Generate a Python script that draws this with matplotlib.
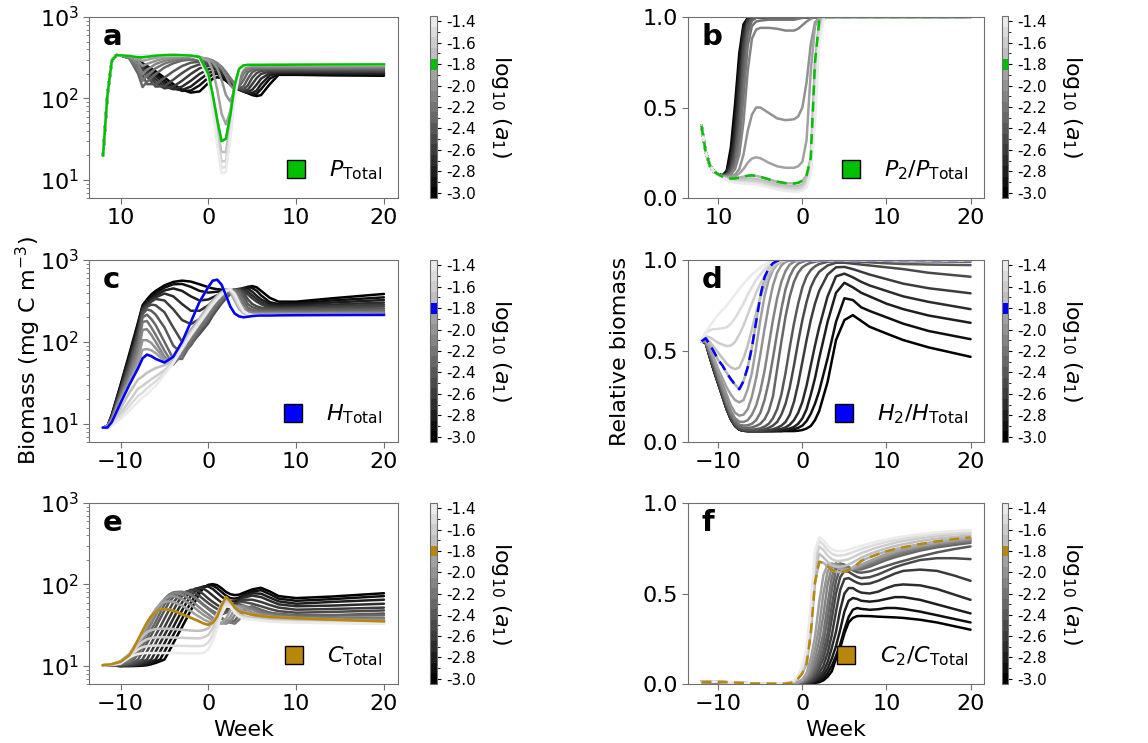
import matplotlib
matplotlib.use("Agg")
import matplotlib.pyplot as plt
import matplotlib.cm as cm
from matplotlib.colors import ListedColormap, BoundaryNorm
from matplotlib.lines import Line2D
from matplotlib.ticker import FixedLocator

# log10(a1) values, one curve per value
A1 = [-3.0, -2.9, -2.8, -2.7, -2.6, -2.5, -2.4, -2.3, -2.2, -2.1, -2.0,
      -1.9, -1.8, -1.7, -1.6, -1.5, -1.4]
HIGHLIGHT = 12  # log10(a1) = -1.8
CBAR_TICKS = [-3.0, -2.8, -2.6, -2.4, -2.2, -2.0, -1.8, -1.6, -1.4]
CBAR_LABELS = ["-3.0", "-2.8", "-2.6", "-2.4", "-2.2", "-2.0", "-1.8", "-1.6", "-1.4"]

# ---- panel a: P_Total ----
WEEKS_A = [-12, -11.5, -11, -10.5, -10, -9, -8, -7.5, -7, -6, -5, -4, -3, -2, -1, 0,
           0.5, 1, 1.5, 2, 2.5, 3, 3.5, 4, 4.5, 5, 5.5, 6, 7, 8, 10, 14, 20]
P_TOTAL = [
    [20, 110, 290, 340, 338, 315, 285, 268, 250, 215, 180, 150, 128, 118, 122, 155, 175, 182, 178, 165, 148, 135, 128, 122, 116, 110, 107, 110, 150, 195, 195, 192, 190],
    [20, 110, 290, 340, 338, 320, 290, 270, 248, 205, 165, 138, 124, 125, 145, 180, 198, 200, 190, 172, 152, 137, 128, 122, 117, 113, 114, 130, 175, 200, 200, 198, 196],
    [20, 110, 290, 340, 338, 322, 285, 262, 238, 190, 152, 131, 127, 140, 170, 205, 215, 212, 198, 178, 156, 139, 130, 123, 118, 117, 125, 150, 192, 205, 206, 204, 202],
    [20, 110, 290, 340, 338, 320, 275, 250, 222, 172, 140, 130, 140, 165, 200, 228, 232, 225, 208, 185, 160, 141, 131, 124, 120, 128, 148, 175, 205, 210, 211, 209, 208],
    [20, 110, 290, 340, 338, 318, 265, 236, 205, 155, 133, 140, 165, 200, 235, 250, 248, 238, 218, 192, 164, 143, 132, 125, 128, 150, 178, 200, 215, 216, 216, 215, 214],
    [20, 110, 290, 340, 338, 315, 250, 218, 185, 140, 142, 170, 205, 240, 262, 265, 260, 248, 226, 198, 168, 145, 133, 128, 145, 180, 205, 218, 222, 222, 222, 221, 220],
    [20, 110, 290, 340, 338, 312, 232, 195, 150, 150, 180, 215, 250, 275, 282, 278, 270, 256, 232, 203, 172, 147, 134, 140, 175, 210, 225, 228, 228, 228, 228, 227, 226],
    [20, 110, 290, 340, 338, 310, 200, 138, 160, 200, 240, 270, 292, 300, 298, 290, 280, 264, 238, 207, 175, 149, 140, 168, 210, 228, 233, 233, 233, 233, 233, 232, 232],
    [20, 110, 290, 340, 338, 315, 230, 165, 190, 235, 268, 290, 305, 310, 308, 300, 290, 272, 245, 212, 178, 150, 155, 200, 230, 238, 238, 238, 238, 238, 238, 238, 238],
    [20, 110, 290, 340, 338, 320, 262, 200, 225, 265, 290, 305, 315, 318, 315, 305, 292, 270, 235, 190, 145, 128, 165, 220, 240, 244, 244, 244, 244, 244, 244, 244, 244],
    [20, 110, 290, 340, 338, 325, 290, 250, 265, 290, 310, 320, 325, 325, 320, 305, 280, 235, 170, 110, 92, 130, 205, 240, 248, 250, 250, 250, 250, 250, 250, 250, 250],
    [20, 110, 290, 340, 338, 330, 310, 290, 298, 315, 325, 332, 335, 335, 325, 290, 220, 130, 65, 48, 70, 150, 225, 250, 255, 255, 255, 255, 255, 255, 255, 255, 255],
    [20, 110, 290, 340, 338, 332, 320, 320, 325, 335, 340, 342, 340, 335, 322, 200, 110, 55, 30, 32, 62, 145, 231, 255, 258, 258, 258, 258, 259, 259, 260, 261, 262],
    [20, 110, 290, 340, 338, 334, 328, 330, 332, 338, 340, 340, 338, 333, 315, 185, 95, 42, 22, 22, 50, 130, 220, 252, 258, 260, 260, 260, 260, 260, 261, 262, 262],
    [20, 110, 290, 340, 338, 335, 332, 333, 335, 338, 340, 340, 338, 332, 312, 175, 85, 35, 17, 17, 42, 120, 215, 250, 258, 260, 260, 260, 260, 260, 261, 262, 262],
    [20, 110, 290, 340, 338, 336, 334, 335, 336, 339, 341, 341, 339, 333, 310, 172, 80, 30, 14, 14.5, 36, 110, 210, 248, 257, 260, 260, 260, 260, 260, 261, 262, 262],
    [20, 110, 290, 340, 338, 337, 336, 336, 337, 340, 342, 342, 340, 334, 308, 170, 75, 27, 12, 12.5, 32, 100, 205, 248, 257, 260, 260, 260, 260, 260, 261, 262, 262],
]

# ---- panel b: P2 / P_Total ----
WEEKS_B = [-12, -11.5, -11, -10.5, -10, -9.5, -9, -8.5, -8, -7.5, -7, -6.5, -6, -5.5, -5,
           -4, -3, -2, -1, -0.5, 0, 0.5, 1, 1.5, 2, 2.5, 3, 5, 10, 20]
P2_FRAC = [
    [.40, .255, .18, .145, .13, .125, .15, .28, .52, .80, .96, .995, 1, 1, 1, 1, 1, 1, 1, 1, 1, 1, 1, 1, 1, 1, 1, 1, 1, 1],
    [.40, .255, .18, .145, .13, .125, .145, .24, .46, .76, .95, .99, 1, 1, 1, 1, 1, 1, 1, 1, 1, 1, 1, 1, 1, 1, 1, 1, 1, 1],
    [.40, .255, .18, .145, .13, .125, .14, .21, .40, .70, .93, .99, 1, 1, 1, 1, 1, 1, 1, 1, 1, 1, 1, 1, 1, 1, 1, 1, 1, 1],
    [.40, .255, .18, .145, .13, .125, .135, .19, .35, .64, .90, .985, 1, 1, 1, 1, 1, 1, 1, 1, 1, 1, 1, 1, 1, 1, 1, 1, 1, 1],
    [.40, .255, .18, .145, .13, .125, .13, .17, .30, .57, .86, .98, .998, 1, 1, 1, 1, 1, 1, 1, 1, 1, 1, 1, 1, 1, 1, 1, 1, 1],
    [.40, .255, .18, .145, .13, .124, .13, .16, .26, .50, .81, .97, .995, 1, 1, 1, 1, 1, 1, 1, 1, 1, 1, 1, 1, 1, 1, 1, 1, 1],
    [.40, .255, .18, .145, .13, .123, .128, .15, .23, .43, .75, .95, .99, 1, 1, 1, 1, 1, 1, 1, 1, 1, 1, 1, 1, 1, 1, 1, 1, 1],
    [.40, .255, .18, .145, .13, .122, .125, .14, .20, .36, .66, .91, .98, .995, 1, 1, 1, 1, 1, 1, 1, 1, 1, 1, 1, 1, 1, 1, 1, 1],
    [.40, .255, .18, .145, .13, .121, .122, .135, .18, .30, .56, .84, .95, .975, .98, .985, .985, .985, .985, .99, .995, 1, 1, 1, 1, 1, 1, 1, 1, 1],
    [.40, .255, .18, .145, .13, .12, .12, .13, .16, .24, .42, .70, .88, .93, .94, .94, .935, .925, .925, .935, .955, .975, .99, 1, 1, 1, 1, 1, 1, 1],
    [.40, .255, .18, .145, .13, .12, .118, .12, .13, .16, .24, .37, .46, .50, .50, .47, .44, .43, .435, .45, .50, .64, .85, .97, .995, 1, 1, 1, 1, 1],
    [.40, .255, .18, .145, .13, .119, .115, .115, .12, .135, .16, .195, .218, .225, .22, .195, .175, .167, .167, .175, .20, .32, .70, .95, .995, 1, 1, 1, 1, 1],
    [.40, .255, .18, .145, .13, .118, .11, .107, .108, .113, .118, .123, .125, .122, .117, .103, .09, .082, .08, .084, .095, .125, .22, .75, .975, .995, 1, 1, 1, 1],
    [.40, .255, .18, .145, .128, .115, .106, .10, .10, .102, .105, .108, .108, .105, .10, .088, .076, .068, .065, .067, .075, .10, .20, .65, .95, .99, 1, 1, 1, 1],
    [.40, .255, .18, .145, .127, .113, .104, .097, .095, .095, .095, .095, .095, .092, .088, .077, .065, .057, .053, .054, .06, .085, .17, .58, .93, .99, 1, 1, 1, 1],
    [.40, .255, .18, .145, .126, .111, .102, .094, .09, .088, .087, .086, .085, .082, .078, .067, .055, .047, .043, .043, .048, .07, .15, .50, .90, .985, 1, 1, 1, 1],
    [.40, .255, .18, .145, .125, .11, .10, .091, .085, .082, .08, .078, .077, .074, .07, .058, .047, .039, .035, .035, .04, .06, .13, .42, .86, .98, 1, 1, 1, 1],
]

# ---- panel c: H_Total ----
WEEKS_C = [-12, -11.5, -11, -10, -9, -8, -7.5, -7, -6.5, -6, -5, -4, -3, -2, -1, 0,
           0.5, 1, 1.5, 2, 2.5, 3, 3.5, 4, 4.5, 5, 5.5, 6, 7, 8, 10, 14, 20]
H_TOTAL = [
    [9, 9.3, 13, 30, 72, 175, 280, 330, 380, 420, 490, 540, 560, 545, 505, 465, 450, 440, 435, 430, 428, 425, 430, 445, 470, 480, 465, 420, 345, 310, 310, 340, 385],
    [9, 9.3, 12.8, 29, 68, 165, 270, 315, 355, 395, 460, 505, 510, 470, 420, 400, 405, 410, 415, 418, 420, 422, 430, 455, 468, 455, 420, 370, 305, 290, 295, 320, 350],
    [9, 9.3, 12.6, 28, 64, 155, 262, 300, 335, 370, 425, 450, 420, 360, 320, 330, 350, 370, 390, 405, 415, 425, 440, 455, 445, 410, 365, 330, 290, 278, 282, 302, 325],
    [9, 9.3, 12.4, 27, 60, 145, 255, 290, 320, 350, 390, 360, 290, 240, 240, 280, 310, 340, 370, 395, 415, 430, 445, 440, 410, 370, 335, 305, 275, 268, 270, 285, 302],
    [9, 9.3, 12.2, 26, 56, 135, 245, 280, 310, 335, 320, 250, 185, 165, 190, 240, 275, 315, 355, 390, 420, 440, 440, 415, 380, 340, 310, 288, 262, 258, 260, 272, 285],
    [9, 9.3, 12.0, 25, 52, 125, 232, 268, 285, 280, 230, 150, 100, 95, 125, 170, 210, 249, 294, 339, 383, 420, 438, 400, 330, 290, 272, 262, 255, 252, 255, 262, 270],
    [9, 9.3, 11.8, 24, 48, 112, 218, 250, 240, 215, 150, 90, 72, 90, 132, 182, 220, 262, 307, 352, 395, 428, 425, 360, 290, 265, 255, 250, 246, 245, 246, 250, 255],
    [9, 9.3, 11.6, 23, 44, 100, 200, 215, 190, 160, 100, 62, 62, 95, 140, 193, 232, 276, 321, 366, 407, 436, 405, 318, 262, 245, 240, 238, 237, 237, 237, 239, 242],
    [9, 9.3, 11.4, 22, 40, 88, 175, 180, 150, 122, 78, 53, 70, 104, 150, 208, 249, 294, 339, 383, 420, 438, 372, 288, 245, 232, 230, 229, 229, 229, 229, 230, 232],
    [9, 9.3, 11.2, 21, 37, 75, 140, 143, 122, 100, 66, 54, 80, 116, 165, 232, 276, 321, 366, 407, 436, 405, 318, 252, 230, 225, 224, 224, 224, 224, 224, 225, 226],
    [9, 9.3, 11.0, 20, 34, 63, 105, 105, 97, 84, 62, 59, 85, 124, 176, 249, 294, 339, 383, 420, 438, 372, 288, 236, 222, 219, 219, 219, 219, 219, 219, 220, 220],
    [9, 9.3, 10.7, 19, 32, 55, 80, 82, 79, 73, 58, 66, 96, 140, 194, 276, 321, 366, 407, 436, 405, 318, 252, 225, 216, 215, 215, 215, 215, 215, 216, 216, 217],
    [9, 9.0, 10.5, 18, 30, 48, 63, 70, 67, 62, 56, 66, 100, 175, 310, 470, 560, 575, 500, 370, 270, 222, 205, 200, 203, 207, 209, 210, 210, 211, 212, 213, 214],
    [9, 8.9, 10.2, 15.5, 24, 35, 38, 42, 45, 48, 52, 60, 92, 132, 188, 267, 312, 357, 398, 430, 432, 340, 264, 228, 217, 213, 212, 212, 212, 212, 212, 213, 213],
    [9, 8.9, 10.0, 13.5, 19, 27, 29, 32, 35, 38, 45, 58, 88, 128, 182, 258, 303, 348, 390, 425, 435, 355, 276, 232, 218, 212, 212, 212, 212, 212, 212, 212, 212],
    [9, 8.8, 9.8, 12.5, 16.5, 22, 24, 27, 30, 33, 42, 56, 85, 124, 176, 249, 294, 339, 383, 420, 438, 372, 288, 236, 219, 212, 211, 211, 211, 211, 211, 211, 211],
    [9, 8.8, 9.5, 11.5, 14.5, 18.5, 21, 23, 26, 29, 40, 55, 82, 120, 170, 240, 285, 330, 375, 415, 440, 390, 300, 240, 220, 212, 210, 210, 210, 210, 210, 210, 210],
]

# ---- panel d: H2 / H_Total ----
WEEKS_D = [-12, -11.5, -11, -10.5, -10, -9.5, -9, -8.5, -8, -7.5, -7, -6.5, -6, -5.5, -5,
           -4.5, -4, -3.5, -3, -2.5, -2, -1.5, -1, -0.5, 0, 0.5, 1, 1.5, 2, 3, 4, 5, 6,
           7, 8, 10, 12, 15, 20]
H2_FRAC = [
    [.553, .545, .465, .39, .32, .25, .18, .125, .088, .068, .062, .06, .06, .06, .06, .06, .06, .06, .06, .06, .06, .06, .06, .062, .066, .074, .088, .12, .17, .33, .56, .67, .697, .665, .633, .596, .56, .52, .468],
    [.553, .545, .465, .39, .32, .25, .18, .125, .088, .068, .062, .06, .06, .06, .06, .06, .06, .06, .06, .06, .063, .066, .07, .078, .09, .115, .155, .21, .28, .46, .66, .79, .78, .74, .72, .685, .65, .61, .565],
    [.553, .545, .465, .39, .32, .25, .18, .125, .088, .068, .062, .06, .06, .06, .06, .06, .06, .06, .062, .065, .068, .074, .083, .10, .13, .18, .26, .35, .46, .66, .82, .875, .85, .82, .80, .76, .73, .695, .655],
    [.553, .545, .465, .39, .32, .25, .18, .125, .088, .068, .062, .06, .06, .06, .06, .06, .061, .063, .067, .072, .08, .095, .12, .16, .22, .31, .42, .53, .63, .80, .91, .925, .905, .88, .86, .83, .80, .77, .73],
    [.553, .547, .47, .395, .325, .255, .185, .13, .092, .07, .064, .062, .061, .06, .06, .062, .065, .07, .078, .09, .11, .15, .22, .32, .44, .56, .67, .76, .83, .92, .96, .962, .95, .935, .92, .895, .87, .845, .817],
    [.553, .548, .475, .40, .33, .26, .19, .135, .095, .073, .066, .064, .063, .063, .065, .07, .078, .09, .11, .15, .21, .30, .42, .55, .67, .77, .85, .90, .935, .97, .985, .985, .98, .975, .97, .96, .95, .93, .908],
    [.553, .55, .48, .41, .34, .27, .20, .14, .10, .078, .07, .068, .068, .07, .075, .085, .10, .13, .18, .26, .38, .52, .65, .76, .85, .91, .945, .965, .978, .99, .995, .995, .993, .99, .987, .982, .978, .975, .972],
    [.553, .55, .485, .42, .35, .28, .21, .15, .11, .085, .078, .078, .08, .088, .10, .125, .17, .25, .40, .55, .69, .80, .88, .93, .96, .975, .985, .99, .995, .998, 1.0, .999, .998, .997, .996, .995, .993, .992, .99],
    [.553, .55, .49, .43, .36, .29, .22, .16, .12, .095, .09, .092, .10, .12, .16, .23, .33, .46, .60, .73, .84, .91, .955, .98, .99, .996, 1, 1, 1, 1, 1, 1, 1, 1, 1, 1, 1, 1, 1],
    [.553, .555, .50, .44, .37, .30, .23, .17, .13, .112, .11, .12, .15, .20, .28, .39, .53, .67, .79, .88, .94, .975, .99, .997, 1, 1, 1, 1, 1, 1, 1, 1, 1, 1, 1, 1, 1, 1, 1],
    [.553, .56, .51, .45, .385, .32, .26, .20, .16, .145, .15, .18, .25, .35, .48, .62, .75, .86, .93, .97, .99, .997, 1, 1, 1, 1, 1, 1, 1, 1, 1, 1, 1, 1, 1, 1, 1, 1, 1],
    [.553, .565, .52, .46, .40, .35, .30, .26, .23, .218, .23, .29, .38, .52, .67, .80, .89, .945, .975, .99, .997, 1, 1, 1, 1, 1, 1, 1, 1, 1, 1, 1, 1, 1, 1, 1, 1, 1, 1],
    [.553, .57, .535, .494, .45, .42, .38, .345, .315, .29, .335, .41, .52, .66, .80, .905, .955, .982, .995, 1, 1, 1, 1, 1, 1, 1, 1, 1, 1, 1, 1, 1, 1, 1, 1, 1, 1, 1, 1],
    [.553, .575, .55, .52, .49, .46, .43, .41, .40, .41, .46, .53, .62, .71, .79, .86, .92, .955, .98, .99, .997, 1, 1, 1, 1, 1, 1, 1, 1, 1, 1, 1, 1, 1, 1, 1, 1, 1, 1],
    [.553, .58, .575, .56, .545, .535, .527, .53, .55, .59, .64, .70, .76, .82, .87, .91, .95, .97, .985, .995, 1, 1, 1, 1, 1, 1, 1, 1, 1, 1, 1, 1, 1, 1, 1, 1, 1, 1, 1],
    [.553, .60, .615, .62, .622, .625, .63, .65, .68, .72, .76, .81, .85, .89, .92, .95, .97, .985, .993, .997, 1, 1, 1, 1, 1, 1, 1, 1, 1, 1, 1, 1, 1, 1, 1, 1, 1, 1, 1],
    [.553, .60, .64, .67, .70, .725, .75, .78, .81, .84, .87, .895, .92, .94, .96, .975, .985, .993, .997, 1, 1, 1, 1, 1, 1, 1, 1, 1, 1, 1, 1, 1, 1, 1, 1, 1, 1, 1, 1],
]

# ---- panel e: C_Total ----
WEEKS_E = [-12, -11, -10, -9, -8.5, -8, -7.5, -7, -6.5, -6, -5.5, -5, -4.5, -4, -3.5, -3,
           -2.5, -2, -1.5, -1, -0.5, 0, 0.5, 1, 1.5, 2, 2.5, 3, 3.5, 4, 5, 6, 7, 8, 10, 14, 20]
C_TOTAL = [
    [10.2, 10.1, 10, 10, 10, 10, 10.1, 10.2, 10.5, 10.9, 11.4, 12, 15, 19, 24, 30, 38, 48, 62, 78, 92, 99, 101, 98, 90, 81, 76, 74, 75, 79, 87, 91, 82, 72, 68, 71, 78],
    [10.2, 10.1, 10, 10, 10, 10.1, 10.2, 10.4, 10.7, 11.3, 12, 15, 19, 24, 30, 38, 48, 60, 72, 84, 93, 98, 97, 90, 81, 73, 68, 67, 69, 74, 82, 85, 76, 67, 63, 66, 72],
    [10.2, 10.1, 10, 10, 10.1, 10.2, 10.4, 10.7, 11.2, 12, 15, 19, 24, 30, 38, 48, 60, 72, 83, 91, 95, 94, 88, 79, 71, 65, 62, 62, 65, 71, 78, 77, 69, 62, 58, 61, 65],
    [10.2, 10.1, 10, 10.1, 10.2, 10.4, 10.7, 11.2, 12, 15, 19, 24, 30, 38, 48, 60, 72, 82, 89, 91, 88, 81, 73, 66, 60, 57, 56, 58, 63, 69, 73, 70, 63, 57, 54, 55, 58],
    [10.2, 10.1, 10, 10.2, 10.4, 10.7, 11.2, 12, 15, 19, 24, 30, 38, 48, 60, 72, 81, 86, 86, 82, 75, 67, 61, 56, 52, 50, 51, 55, 61, 65, 65, 61, 56, 52, 49, 50, 52],
    [10.2, 10.1, 10.1, 10.4, 10.7, 11.2, 12, 15, 19, 24, 30, 38, 48, 60, 70, 78, 82, 82, 78, 72, 65, 59, 54, 50, 47, 47, 50, 55, 60, 61, 58, 54, 50, 47, 45, 46, 48],
    [10.2, 10.2, 10.3, 10.7, 11.2, 12, 15, 19, 24, 30, 38, 48, 60, 70, 77, 80, 79, 75, 69, 62, 56, 51, 47, 44, 43, 45, 49, 54, 56, 55, 51, 48, 45, 43, 41.5, 42, 44],
    [10.2, 10.2, 10.4, 11, 12, 14, 17.5, 22, 28, 35, 45, 57, 68, 76, 80, 81, 79, 74, 68, 61, 55, 50, 45, 41, 38, 36, 35, 36, 42, 50, 54, 49, 45, 43.5, 42, 41.5, 42],
    [10.2, 10.3, 10.6, 11.5, 13, 16, 20, 26, 33, 42, 54, 66, 75, 80, 81, 81, 79, 75, 69, 62, 56, 50, 46, 42, 39, 36, 34, 33, 37, 46, 52, 46, 43, 42, 40, 39, 39],
    [10.2, 10.3, 10.8, 12.2, 14, 17, 21.5, 27, 34, 43, 54, 65, 73, 78, 78, 75, 70, 64, 58, 52, 47, 43, 39, 36, 34, 33, 35, 42, 52, 55, 49, 44, 42, 40.5, 39, 38, 37.5],
    [10.2, 10.4, 11, 13, 15.5, 19, 24, 30, 38, 48, 58, 66, 71, 72, 70, 66, 61, 56, 51, 46, 42, 39, 36, 34, 33, 34, 40, 50, 55, 52, 45, 42, 40, 39, 37.5, 36.5, 36],
    [10.2, 10.5, 11.5, 14, 17, 21, 26, 33, 41, 50, 57, 61, 62, 61, 58, 55, 51, 47, 43, 40, 37, 35, 33.5, 33, 34, 38, 48, 55, 52, 47, 42, 40, 38.5, 37.5, 36.5, 35.5, 35],
    [10.2, 10.5, 11.2, 13.5, 16.5, 21, 27, 34, 41, 46, 49, 49.6, 49, 47.5, 45.5, 43, 41, 39, 37, 35, 33, 32, 34, 40, 55, 70, 62, 52, 47, 45, 42.5, 41, 40, 39.5, 38.6, 37, 35.2],
    [10.2, 10.5, 11.3, 13.5, 16, 19.5, 23, 26, 27.5, 28.3, 28.6, 28.7, 28.6, 28.4, 28.1, 27.8, 27.5, 27.2, 27, 27, 27.5, 29, 34, 44, 58, 66, 58, 48, 43, 41, 39, 38, 37, 36.5, 35.5, 34.5, 34],
    [10.2, 10.4, 11, 13.3, 15.3, 17.8, 19.8, 21.2, 22, 22.4, 22.5, 22.5, 22.4, 22.3, 22.2, 22.1, 22, 21.9, 21.8, 21.8, 22.5, 24, 29, 39, 53, 62, 57, 47, 42, 40, 38, 37, 36, 35.5, 35, 34, 33.5],
    [10.2, 10.4, 10.8, 13, 14.5, 16, 17, 17.5, 17.7, 17.8, 17.8, 17.8, 17.8, 17.7, 17.7, 17.6, 17.6, 17.5, 17.5, 17.5, 17.8, 19.5, 24, 34, 48, 58, 55, 46, 41, 39, 37.5, 36.5, 35.5, 35, 34.5, 33.8, 33.3],
    [10.2, 10.3, 10.7, 12.7, 13.5, 14, 14.3, 14.4, 14.4, 14.4, 14.4, 14.4, 14.4, 14.4, 14.4, 14.3, 14.3, 14.3, 14.3, 14.3, 14.5, 16, 20, 29, 43, 54, 53, 45, 40, 38, 37, 36, 35, 34.5, 34, 33.5, 33],
]

# ---- panel f: C2 / C_Total ----
WEEKS_F = [-12, -10, -8, -6, -4, -2, -1, -0.5, 0, 0.5, 1, 1.5, 2, 2.5, 3, 3.5, 4, 4.5, 5,
           5.5, 6, 6.5, 7, 8, 9, 10, 11, 12, 14, 16, 18, 20]
C2_FRAC = [
    [.012, .011, .006, .002, .001, .001, .001, .001, 0, .001, .003, .006, .01, .02, .04, .07, .14, .2, .28, .34, .365, .375, .376, .375, .372, .37, .368, .365, .355, .34, .32, .30],
    [.012, .011, .006, .002, .001, .001, .001, .001, .001, .002, .005, .01, .018, .033, .06, .1, .155, .22, .3, .37, .41, .42, .415, .41, .413, .42, .42, .415, .40, .38, .36, .34],
    [.012, .011, .006, .002, .001, .001, .001, .001, .001, .003, .007, .014, .027, .05, .085, .14, .21, .3, .4, .46, .475, .47, .46, .455, .46, .47, .48, .48, .465, .44, .415, .39],
    [.012, .011, .006, .002, .001, .001, .001, .001, .002, .005, .01, .02, .04, .07, .12, .2, .29, .41, .5, .53, .53, .515, .505, .5, .51, .53, .545, .55, .545, .525, .495, .465],
    [.012, .011, .006, .002, .001, .001, .001, .002, .003, .007, .015, .03, .06, .1, .17, .27, .4, .52, .58, .585, .572, .56, .552, .555, .57, .59, .61, .625, .632, .625, .6, .57],
    [.012, .011, .007, .002, .001, .001, .002, .003, .005, .01, .022, .045, .085, .14, .23, .36, .5, .59, .625, .62, .605, .592, .585, .59, .605, .625, .645, .66, .685, .695, .695, .69],
    [.012, .011, .007, .002, .001, .001, .002, .004, .007, .015, .03, .06, .11, .18, .28, .43, .57, .64, .655, .645, .628, .618, .615, .622, .637, .652, .667, .68, .705, .727, .745, .76],
    [.012, .011, .007, .003, .001, .001, .003, .005, .01, .02, .04, .08, .14, .23, .36, .52, .63, .665, .66, .645, .635, .632, .633, .648, .667, .685, .7, .713, .737, .755, .768, .78],
    [.012, .012, .007, .003, .001, .001, .003, .006, .012, .025, .055, .105, .18, .28, .44, .59, .66, .665, .65, .638, .633, .635, .64, .66, .68, .697, .712, .725, .748, .765, .778, .79],
    [.012, .012, .007, .003, .002, .001, .004, .008, .015, .035, .075, .14, .24, .38, .55, .645, .667, .655, .64, .633, .633, .64, .648, .668, .688, .705, .72, .733, .755, .772, .785, .795],
    [.012, .012, .008, .003, .002, .001, .004, .009, .02, .045, .1, .19, .32, .5, .62, .665, .66, .645, .635, .633, .637, .645, .655, .675, .695, .712, .727, .74, .76, .777, .79, .80],
    [.012, .012, .008, .003, .002, .001, .004, .01, .025, .06, .14, .26, .45, .6, .66, .665, .65, .635, .63, .632, .64, .65, .66, .68, .70, .718, .732, .745, .765, .782, .795, .805],
    [.012, .012, .008, .003, .002, .002, .01, .03, .06, .11, .28, .56, .675, .67, .65, .63, .62, .618, .622, .63, .645, .66, .68, .70, .718, .733, .745, .755, .773, .788, .80, .81],
    [.012, .012, .008, .003, .002, .003, .013, .035, .075, .14, .33, .62, .72, .70, .675, .655, .648, .648, .652, .66, .672, .685, .698, .718, .735, .75, .762, .772, .79, .803, .813, .82],
    [.012, .012, .008, .003, .002, .003, .015, .04, .085, .16, .37, .67, .76, .74, .71, .69, .68, .68, .684, .69, .70, .712, .723, .74, .755, .768, .78, .79, .805, .817, .826, .833],
    [.012, .012, .008, .003, .002, .003, .017, .045, .095, .18, .41, .71, .79, .77, .74, .72, .71, .71, .713, .72, .728, .737, .745, .76, .773, .785, .795, .803, .818, .828, .836, .842],
    [.012, .012, .008, .003, .002, .004, .02, .05, .10, .20, .44, .74, .81, .795, .765, .745, .735, .733, .736, .742, .75, .757, .763, .776, .788, .798, .807, .815, .828, .838, .845, .85],
]

GREEN = "#00c000"
BLUE = "#0000ff"
GOLD = "#b8860b"
SPINE = "#707070"

grays = [str(0.92 * i / (len(A1) - 1)) for i in range(len(A1))]

plt.rcParams["font.family"] = "DejaVu Sans"
fig = plt.figure(figsize=(11.48, 7.43), dpi=100)

W, H = 1148, 743


def px_axes(left, top, right, bottom):
    return fig.add_axes([left / W, 1 - bottom / H, (right - left) / W, (bottom - top) / H])


def draw(ax, cax, weeks, rows, color, dashed, logy, letter, label):
    for i, row in enumerate(rows):
        ax.plot(weeks, row, color=grays[i], lw=1.8, solid_capstyle="round")
    if dashed:
        ax.plot(weeks, rows[HIGHLIGHT], color=color, lw=1.8, dashes=(4, 2.5))
    else:
        ax.plot(weeks, rows[HIGHLIGHT], color=color, lw=1.8)

    ax.set_xlim(-13.6, 21.6)
    ax.set_xticks([-10, 0, 10, 20])
    if logy:
        ax.set_yscale("log")
        ax.set_ylim(6, 1000)
    else:
        ax.set_ylim(0, 1)
        ax.set_yticks([0, 0.5, 1.0])
        ax.set_yticklabels(["0.0", "0.5", "1.0"])
    ax.tick_params(labelsize=16, color=SPINE, length=4)
    ax.tick_params(which="minor", color=SPINE)
    for s in ax.spines.values():
        s.set_color(SPINE)

    ax.text(0.045, 0.845, letter, transform=ax.transAxes, fontsize=21,
            fontweight="bold", va="baseline")

    handle = Line2D([], [], marker="s", ls="none", markersize=13,
                    markerfacecolor=color, markeredgecolor="black", markeredgewidth=1)
    ax.legend([handle], [label], loc="lower right", frameon=False, fontsize=16,
              handletextpad=0.5, borderaxespad=0.3)

    # colorbar with the highlighted value coloured
    cols = list(grays)
    cols[HIGHLIGHT] = color
    bounds = [a - 0.05 for a in A1] + [A1[-1] + 0.05]
    sm = cm.ScalarMappable(norm=BoundaryNorm(bounds, len(A1)), cmap=ListedColormap(cols))
    cb = fig.colorbar(sm, cax=cax, ticks=CBAR_TICKS)
    cb.ax.set_yticklabels(CBAR_LABELS)
    cb.ax.yaxis.set_minor_locator(FixedLocator([a for a in A1 if a not in CBAR_TICKS]))
    cb.ax.tick_params(labelsize=11, length=3, color="black")
    cb.ax.tick_params(which="minor", length=2)
    cb.outline.set_edgecolor(SPINE)
    cb.set_label(r"log$_{10}$ ($a_1$)", rotation=270, fontsize=16, labelpad=27)


ax_a = px_axes(89, 17, 398, 198)
ax_b = px_axes(688, 17, 984, 198)
ax_c = px_axes(89, 260, 398, 442)
ax_d = px_axes(688, 260, 984, 442)
ax_e = px_axes(89, 503, 398, 684)
ax_f = px_axes(688, 503, 984, 684)

cax_a = px_axes(430, 16, 437, 198)
cax_b = px_axes(1002, 16, 1008, 198)
cax_c = px_axes(430, 260, 437, 442)
cax_d = px_axes(1002, 260, 1008, 442)
cax_e = px_axes(430, 503, 437, 684)
cax_f = px_axes(1002, 503, 1008, 684)

draw(ax_a, cax_a, WEEKS_A, P_TOTAL, GREEN, False, True, "a", r"$P_{\mathrm{Total}}$")
draw(ax_b, cax_b, WEEKS_B, P2_FRAC, GREEN, True, False, "b", r"$P_2/P_{\mathrm{Total}}$")
draw(ax_c, cax_c, WEEKS_C, H_TOTAL, BLUE, False, True, "c", r"$H_{\mathrm{Total}}$")
draw(ax_d, cax_d, WEEKS_D, H2_FRAC, BLUE, True, False, "d", r"$H_2/H_{\mathrm{Total}}$")
draw(ax_e, cax_e, WEEKS_E, C_TOTAL, GOLD, False, True, "e", r"$C_{\mathrm{Total}}$")
draw(ax_f, cax_f, WEEKS_F, C2_FRAC, GOLD, True, False, "f", r"$C_2/C_{\mathrm{Total}}$")

# top row shows the tick labels without the minus sign
for ax in (ax_a, ax_b):
    ax.set_xticklabels(["10", "0", "10", "20"])

ax_e.set_xlabel("Week", fontsize=16)
ax_f.set_xlabel("Week", fontsize=16)
fig.text(0.012, 1 - 351 / H, r"Biomass (mg C m$^{-3}$)", rotation=90,
         va="center", ha="left", fontsize=16)
fig.text(620 / W, 1 - 351 / H, "Relative biomass", rotation=90,
         va="center", ha="center", fontsize=16)

fig.savefig("out.png", dpi=100)
